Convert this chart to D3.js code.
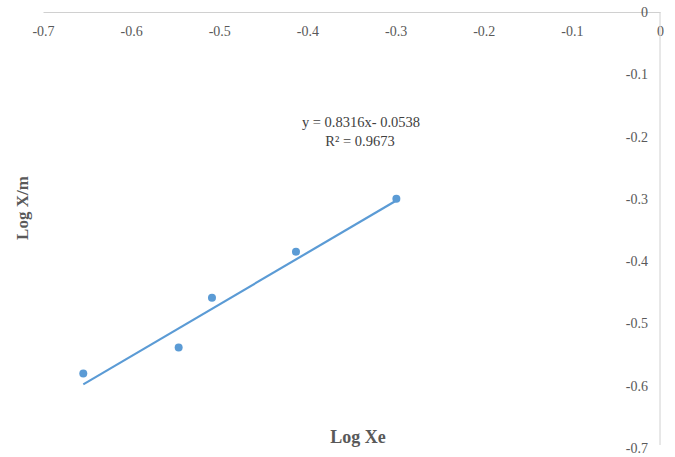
<!DOCTYPE html>
<html>
<head>
<meta charset="utf-8">
<script src="https://cdn.jsdelivr.net/npm/d3@7"></script>
<style>
  html, body { margin: 0; padding: 0; background: #fff; }
  svg { display: block; }
  text { font-family: "Liberation Serif", "Times New Roman", serif; }
</style>
</head>
<body>
<svg id="chart" width="675" height="457"></svg>
<script>
// Freundlich isotherm: log(Xe) vs log(X/m)
const logXe = [-0.6543, -0.5461, -0.5083, -0.4130, -0.2991];
const logXm = [-0.5803, -0.5387, -0.4586, -0.3849, -0.3000];

// Linear trendline as reported by the fit
const slope = 0.8316;
const intercept = -0.0538;
const rSquared = 0.9673;

const xTicks = [-0.7, -0.6, -0.5, -0.4, -0.3, -0.2, -0.1, 0];
const yTicks = [0, -0.1, -0.2, -0.3, -0.4, -0.5, -0.6, -0.7];

const svg = d3.select("#chart");
const textColor = "#595959";
const axisColor = "#d0d0d0";
const seriesColor = "#5b9bd5";

// plain hyphen-minus labels, "0" for zero
const fmt = d => d === 0 ? "0" : d3.format(".1f")(d).replace("\u2212", "-");

const x = d3.scaleLinear().domain([-0.7, 0]).range([43, 660]);
const y = d3.scaleLinear().domain([0, -0.7]).range([12, 448]);

// X axis runs along y = 0 (top), labels below the line
const xAxis = d3.axisBottom(x)
  .tickValues(xTicks)
  .tickSize(0)
  .tickPadding(14)
  .tickFormat(fmt);
const gx = svg.append("g")
  .attr("transform", `translate(0,${y(0)})`)
  .call(xAxis);
gx.select(".domain").attr("stroke", axisColor).attr("stroke-width", 1);
gx.selectAll("text")
  .attr("fill", textColor)
  .style("font-size", "14px")
  .style("font-family", '"Liberation Serif", serif');

// Y axis runs along x = 0 (right), labels to its left
const yAxis = d3.axisLeft(y)
  .tickValues(yTicks)
  .tickSize(0)
  .tickPadding(12)
  .tickFormat(fmt);
const gy = svg.append("g")
  .attr("transform", `translate(${x(0)},0)`)
  .call(yAxis);
gy.select(".domain").attr("stroke", axisColor).attr("stroke-width", 1)
  .attr("d", `M0,${y(0)}V${y(-0.7) - 3}`);
gy.selectAll("text")
  .attr("fill", textColor)
  .style("font-size", "14px")
  .style("font-family", '"Liberation Serif", serif');

// Trendline across the range of the data
const xMin = d3.min(logXe), xMax = d3.max(logXe);
svg.append("line")
  .attr("x1", x(xMin)).attr("y1", y(slope * xMin + intercept))
  .attr("x2", x(xMax)).attr("y2", y(slope * xMax + intercept))
  .attr("stroke", seriesColor)
  .attr("stroke-width", 2.2);

// Data points
svg.append("g").selectAll("circle")
  .data(logXe.map((v, i) => [v, logXm[i]]))
  .join("circle")
  .attr("cx", d => x(d[0]))
  .attr("cy", d => y(d[1]))
  .attr("r", 4)
  .attr("fill", seriesColor);

// Trendline equation
const eq = svg.append("text")
  .attr("text-anchor", "middle")
  .attr("fill", "#404040")
  .style("font-size", "14.5px");
eq.append("tspan").attr("x", 361).attr("y", 127)
  .text(`y = ${slope}x- ${Math.abs(intercept)}`);
eq.append("tspan").attr("x", 360).attr("y", 146)
  .text(`R² = ${rSquared}`);

// Axis titles
svg.append("text")
  .attr("x", 358).attr("y", 443)
  .attr("text-anchor", "middle")
  .attr("fill", textColor)
  .style("font-size", "18px")
  .style("font-weight", "bold")
  .text("Log Xe");

svg.append("text")
  .attr("transform", "translate(28,208) rotate(-90)")
  .attr("text-anchor", "middle")
  .attr("fill", textColor)
  .style("font-size", "17px")
  .style("font-weight", "bold")
  .text("Log X/m");
</script>
</body>
</html>
